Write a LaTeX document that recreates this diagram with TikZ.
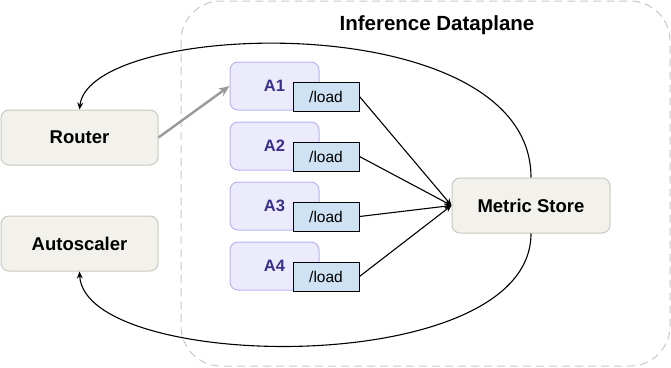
\documentclass[tikz,border=0pt]{standalone}
\usepackage{fontspec}
\setmainfont{Liberation Sans}
\usetikzlibrary{arrows.meta}
\definecolor{boxfill}{HTML}{F2F1EB}
\definecolor{boxdraw}{HTML}{C9C8C0}
\definecolor{afill}{HTML}{ECEBFC}
\definecolor{adraw}{HTML}{B9B4EF}
\definecolor{atext}{HTML}{3B2F8C}
\definecolor{loadfill}{HTML}{CFE2F3}
\definecolor{dashgray}{HTML}{C8C8C8}
\definecolor{arrowgray}{HTML}{9A9A9A}
\tikzset{
  mainbox/.style={draw=boxdraw, fill=boxfill, line width=1pt, rounded corners=8pt,
    minimum width=157pt, minimum height=55pt, inner sep=0pt,
    font=\fontsize{18.5}{20}\selectfont\bfseries},
  abox/.style={draw=adraw, fill=afill, line width=1pt, rounded corners=8pt,
    minimum width=89pt, minimum height=48pt, inner sep=0pt,
    font=\fontsize{16.5}{18}\selectfont\bfseries, text=atext},
  loadbox/.style={draw=black, fill=loadfill, line width=1pt,
    minimum width=66pt, minimum height=29pt, inner sep=0pt,
    font=\fontsize{15.5}{17}\selectfont},
  conn/.style={line width=1.1pt, -{Stealth[length=7pt,width=6pt]}},
}
\begin{document}
\begin{tikzpicture}[x=1pt,y=-1pt]
\useasboundingbox (0,0) rectangle (671,367);
% container
\draw[dashgray, line width=1pt, dash pattern=on 8pt off 5pt, rounded corners=40pt]
  (181,1) rectangle (670,366);
\node[font=\fontsize{20.5}{22}\selectfont\bfseries] (title) at (437,25) {Inference Dataplane};
% main nodes
\node[mainbox] (router) at (79.5,137.5) {Router};
\node[mainbox] (auto) at (79.5,243.5) {Autoscaler};
\node[mainbox, minimum width=158pt] (ms) at (531,205.5) {Metric Store};
% A boxes
\foreach \i in {1,2,3,4}{
  \node[abox] (a\i) at (274.5,{86+60*(\i-1)}) {A\i};
  \node[loadbox] (l\i) at (326,{96.5+60*(\i-1)}) {/load};
}
% connectors
\draw[arrowgray, line width=2.4pt, -{Stealth[length=11pt,width=9pt]}] (router.east) -- (a1.west);
\foreach \i in {1,2,3,4}{
  \draw[conn] (l\i.east) -- (ms.west);
}
\draw[conn] (ms.north) .. controls +(0,-173) and +(10,-90) .. (router.north);
\draw[conn] (ms.south) .. controls +(0,147) and +(5,101) .. (auto.south);
\end{tikzpicture}
\end{document}
